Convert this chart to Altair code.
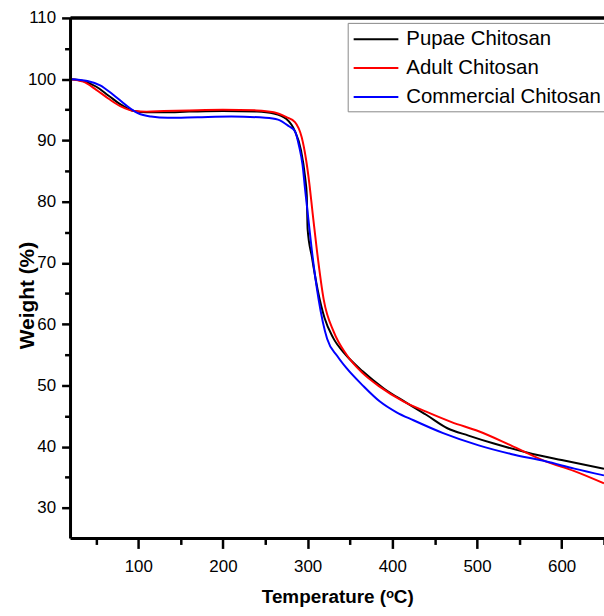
import altair as alt
import pandas as pd

# Pupae Chitosan (black)
pupae_t = [20, 35, 50, 65, 80, 95, 110, 130, 160, 200, 240, 260, 275, 285, 292, 297, 299, 300, 305, 312, 320, 330, 345, 365, 390, 415, 440, 465, 490, 520, 560, 600, 650]
pupae_w = [100, 99.7, 98.8, 97.3, 95.8, 94.8, 94.6, 94.6, 94.7, 94.8, 94.7, 94.4, 93.5, 91.5, 88.5, 84, 81, 75.5, 71, 65.5, 61, 57.8, 55, 52.3, 49.5, 47.3, 45.2, 43, 41.8, 40.5, 39, 37.8, 36.4]

# Adult Chitosan (red)
adult_t = [20, 35, 50, 65, 80, 95, 110, 130, 160, 200, 240, 260, 275, 285, 293, 298, 302, 306, 311, 319, 331, 346, 365, 385, 413, 440, 470, 502, 540, 581, 615, 650]
adult_w = [100, 99.6, 98.3, 96.8, 95.5, 94.8, 94.7, 94.8, 94.9, 95, 94.9, 94.6, 93.8, 93, 90.5, 87, 83, 78, 72, 64, 58.7, 55, 52, 49.8, 47.4, 45.7, 44, 42.5, 40.2, 37.6, 36, 34]

# Commercial Chitosan (blue)
comm_t = [20, 40, 55, 70, 85, 100, 115, 135, 170, 210, 250, 265, 278, 285, 290, 294, 297, 301, 305, 313, 323, 335, 346, 365, 385, 405, 425, 460, 502, 540, 581, 615, 650]
comm_w = [100, 99.7, 99, 97.5, 95.8, 94.4, 93.9, 93.7, 93.8, 93.9, 93.7, 93.4, 92.3, 91.5, 89, 86, 82, 77, 72, 64, 57.6, 54.8, 52.8, 50, 47.4, 45.6, 44.3, 42.2, 40.2, 38.8, 37.6, 36.4, 35.3]

series = ["Pupae Chitosan", "Adult Chitosan", "Commercial Chitosan"]
colors = ["#000000", "#ff0000", "#0000ff"]

x_domain = [20, 650]
y_domain = [25, 110]
x_major = list(range(100, 601, 100))
x_minor = list(range(50, 651, 100))
y_major = list(range(30, 111, 10))
y_minor = list(range(35, 106, 10))

rows = []
for name, ts, ws in [(series[0], pupae_t, pupae_w), (series[1], adult_t, adult_w), (series[2], comm_t, comm_w)]:
    for i, (t, w) in enumerate(zip(ts, ws)):
        rows.append({"Series": name, "T": t, "W": w, "order": i})
df = pd.DataFrame(rows)

xscale = alt.Scale(domain=x_domain, nice=False, zero=False)
yscale = alt.Scale(domain=y_domain, nice=False, zero=False)

base = alt.Chart(df)

lines = base.mark_line(strokeWidth=2, interpolate="monotone", clip=True).encode(
    x=alt.X("T:Q", scale=xscale,
            axis=alt.Axis(orient="bottom", title="Temperature (ᵒC)", values=x_major,
                          tickSize=10, tickWidth=2.5, tickColor="#000000",
                          labelFont="Liberation Sans", labelFontSize=17, labelColor="#000",
                          labelPadding=10,
                          titleFont="Liberation Sans", titleFontSize=19, titleFontWeight="bold",
                          titleColor="#000", titleY=58, titleBaseline="middle",
                          domain=False, gridOpacity=0, labelFlush=False, labelOverlap=False)),
    y=alt.Y("W:Q", scale=yscale,
            axis=alt.Axis(orient="left", title="Weight (%)", values=y_major,
                          tickSize=9, tickWidth=2.5, tickColor="#000000",
                          labelFont="Liberation Sans", labelFontSize=17, labelColor="#000",
                          labelPadding=6,
                          titleFont="Liberation Sans", titleFontSize=21, titleFontWeight="bold",
                          titleColor="#000", titleX=-43, titleY=279, titleAlign="center",
                          titleBaseline="middle",
                          domain=False, grid=False, labelFlush=False, labelOverlap=False)),
    color=alt.Color("Series:N", scale=alt.Scale(domain=series, range=colors),
                    legend=alt.Legend(title=None, orient="none", legendX=279, legendY=5,
                                      symbolType="M-2,0H2", symbolSize=506, symbolStrokeWidth=2,
                                      symbolOffset=12,
                                      labelFont="Liberation Sans", labelFontSize=20.5, labelColor="#000",
                                      labelOffset=18, labelLimit=400, rowPadding=6, padding=4,
                                      strokeColor="#888", fillColor="#ffffff")),
    order=alt.Order("order:Q"),
    detail="Series:N",
)

minor = base.mark_point(opacity=0).encode(
    x=alt.X("T:Q", scale=xscale,
            axis=alt.Axis(orient="bottom", title=None, values=x_minor, tickSize=6,
                          labels=False, domain=False, tickColor="#000000",
                          tickWidth=2.5, gridOpacity=0)),
    y=alt.Y("W:Q", scale=yscale,
            axis=alt.Axis(orient="left", title=None, values=y_minor, tickSize=6,
                          labels=False, domain=False, tickColor="#000000",
                          tickWidth=2.5, gridOpacity=0)),
)

# frame lines drawn through the scales (left, bottom, top)
one = pd.DataFrame({"k": [0]})
frame_left = alt.Chart(one).mark_rule(color="#000", strokeWidth=3).encode(
    x=alt.XDatum(x_domain[0], axis=None),
    y=alt.YDatum(y_domain[0], axis=None),
    y2=alt.Y2Datum(y_domain[1]),
)
frame_bottom = alt.Chart(one).mark_rule(color="#000", strokeWidth=3).encode(
    x=alt.XDatum(x_domain[0], axis=None),
    x2=alt.X2Datum(x_domain[1]),
    y=alt.YDatum(y_domain[0], axis=None),
)
frame_top = alt.Chart(one).mark_rule(color="#000", strokeWidth=3.5).encode(
    x=alt.XDatum(x_domain[0], axis=None),
    x2=alt.X2Datum(x_domain[1]),
    y=alt.YDatum(y_domain[1], axis=None),
)

chart = alt.layer(lines, minor, frame_left, frame_bottom, frame_top).resolve_axis(
    x="independent", y="independent"
).properties(
    width=537, height=524,
    autosize=alt.AutoSizeParams(type="none"),
    padding={"left": 71, "top": 16, "right": 0, "bottom": 76},
).configure_view(stroke="#000", strokeWidth=3).configure(background="#ffffff")

chart.save("out.html", embed_options={"renderer": "svg", "actions": False})
